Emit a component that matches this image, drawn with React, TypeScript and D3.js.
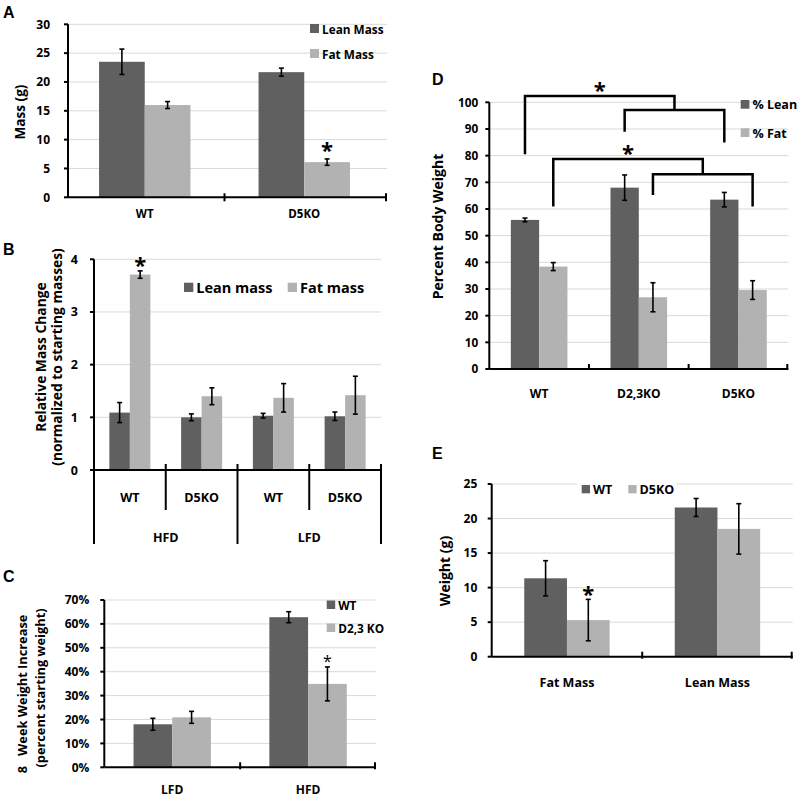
import React from "react";
import * as d3 from "d3";

const FONT = "'Open Sans', Lato, 'DejaVu Sans', sans-serif";
const LETTER_FONT = "'Liberation Sans', Arial, sans-serif";
const DARK = "#606060";
const LIGHT = "#b2b2b2";
const GRID = "#d9d9d9";

// ---------- Panel A ----------
const aCategories = ["WT", "D5KO"];
const aSeriesNames = ["Lean Mass", "Fat Mass"];
const aLean = [23.5, 21.7];
const aLeanErr = [2.2, 0.7];
const aFat = [16.0, 6.1];
const aFatErr = [0.6, 0.55];
const aTicks = [0, 5, 10, 15, 20, 25, 30];
const aStars = [[1, 1]]; // [category, series]

// ---------- Panel B ----------
const bCategories = ["WT", "D5KO", "WT", "D5KO"];
const bGroups = ["HFD", "LFD"];
const bSeriesNames = ["Lean mass", "Fat mass"];
const bLean = [1.09, 1.0, 1.03, 1.02];
const bLeanErr = [0.19, 0.065, 0.045, 0.08];
const bFat = [3.71, 1.4, 1.37, 1.42];
const bFatErr = [0.07, 0.16, 0.27, 0.36];
const bTicks = [0, 1, 2, 3, 4];
const bStars = [[0, 1]];

// ---------- Panel C ----------
const cCategories = ["LFD", "HFD"];
const cSeriesNames = ["WT", "D2,3 KO"];
const cWT = [0.18, 0.628];
const cWTErr = [0.025, 0.023];
const cKO = [0.209, 0.349];
const cKOErr = [0.025, 0.071];
const cTicks = [0, 0.1, 0.2, 0.3, 0.4, 0.5, 0.6, 0.7];
const cStars = [[1, 1]];

// ---------- Panel D ----------
const dCategories = ["WT", "D2,3KO", "D5KO"];
const dSeriesNames = ["% Lean", "% Fat"];
const dLean = [55.9, 68.0, 63.5];
const dLeanErr = [0.7, 4.75, 2.7];
const dFat = [38.4, 26.9, 29.6];
const dFatErr = [1.5, 5.45, 3.5];
const dTicks = [0, 10, 20, 30, 40, 50, 60, 70, 80, 90, 100];
// significance brackets: WT vs (D2,3KO, D5KO), one per series
const dBracketSeries = [0, 1];
const dBracketLeftBase = [80.5, 60.9];
const dBracketOuterTop = [102.4, 78.75];
const dBracketInnerTop = [97.1, 73];
const dBracketMidBase = [89, 65.25];
const dBracketRightBase = [84.9, 60.9];

// ---------- Panel E ----------
const eCategories = ["Fat Mass", "Lean Mass"];
const eSeriesNames = ["WT", "D5KO"];
const eWT = [11.35, 21.6];
const eWTErr = [2.55, 1.3];
const eKO = [5.3, 18.5];
const eKOErr = [3.0, 3.65];
const eTicks = [0, 5, 10, 15, 20, 25];
const eStars = [[0, 1]];

type Series = { values: number[]; errs: number[]; color: string };

function makeScales(n: number, x0: number, x1: number, max: number, yBot: number, yTop: number) {
  const x = d3.scaleBand<number>().domain(d3.range(n)).range([x0, x1]);
  const y = d3.scaleLinear().domain([0, max]).range([yBot, yTop]);
  return { x, y };
}

function Panel(p: any) {
  const { x, y } = p.scales;
  const series: Series[] = p.series;
  const ns = series.length;
  const center = (i: number) => (x(i) as number) + x.bandwidth() / 2;
  const barLeft = (i: number, j: number) => center(i) + (j - ns / 2) * p.barW;
  const fmt = p.fmt || ((v: number) => String(v));
  const els: any[] = [];
  p.ticks.forEach((t: number, k: number) => {
    if (t === 0) return;
    els.push(
      <line key={"g" + k} x1={p.axisStart} x2={p.axisEnd} y1={y(t)} y2={y(t)} stroke={GRID} strokeWidth={1} />
    );
  });
  if (p.legendMask) els.push(<rect key="mask" {...p.legendMask} fill="#fff" />);
  series.forEach((s, j) =>
    s.values.forEach((v, i) => {
      els.push(
        <rect key={`b${i}-${j}`} x={barLeft(i, j)} width={p.barW} y={y(v)} height={y(0) - y(v)} fill={s.color} />
      );
    })
  );
  series.forEach((s, j) =>
    s.values.forEach((v, i) => {
      const cx = barLeft(i, j) + p.barW / 2;
      const lo = y(v - s.errs[i]);
      const hi = y(v + s.errs[i]);
      const cw = p.capW ?? 2.5;
      els.push(
        <g key={`e${i}-${j}`} stroke="#000" strokeWidth={1.6}>
          <line x1={cx} x2={cx} y1={lo} y2={hi} />
          <line x1={cx - cw} x2={cx + cw} y1={lo} y2={lo} />
          <line x1={cx - cw} x2={cx + cw} y1={hi} y2={hi} />
        </g>
      );
    })
  );
  const yb = y(0);
  els.push(
    <line key="yax" x1={p.axisStart} x2={p.axisStart} y1={y(p.ticks[p.ticks.length - 1])} y2={yb} stroke="#000" strokeWidth={2} />
  );
  els.push(<line key="xax" x1={p.axisStart} x2={p.axisEnd} y1={yb} y2={yb} stroke="#000" strokeWidth={2} />);
  p.ticks.forEach((t: number, k: number) => {
    els.push(
      <line key={"yt" + k} x1={p.axisStart - 4} x2={p.axisStart} y1={y(t)} y2={y(t)} stroke="#000" strokeWidth={2} />
    );
    els.push(
      <text key={"yl" + k} x={p.axisStart - p.tickGap} y={y(t)} dy="0.36em" textAnchor="end" fontSize={p.tickFs} fontWeight="bold" fontFamily={FONT}>
        {fmt(t)}
      </text>
    );
  });
  if (p.xTicks) {
    for (let i = 1; i <= p.cats.length; i++) {
      const bx = i === p.cats.length ? p.axisEnd - 1 : (x(i) as number);
      els.push(
        <line key={"xt" + i} x1={bx} x2={bx} y1={yb - p.xTicks[0]} y2={yb + p.xTicks[1]} stroke="#000" strokeWidth={2} />
      );
    }
  }
  if (p.catLabelY) {
    p.cats.forEach((c: string, i: number) =>
      els.push(
        <text key={"cl" + i} x={center(i)} y={p.catLabelY} textAnchor="middle" fontSize={p.catFs} fontWeight="bold" fontFamily={FONT}>
          {c}
        </text>
      )
    );
  }
  (p.stars || []).forEach((st: number[], k: number) => {
    const [i, j] = st;
    const s = series[j];
    const cx = barLeft(i, j) + p.barW / 2;
    const top = y(s.values[i] + s.errs[i]);
    els.push(
      <text key={"st" + k} x={cx} y={top - p.starOffset} textAnchor="middle" fontSize={p.starFs} fontWeight={p.starWeight || "bold"} fontFamily={FONT}>
        *
      </text>
    );
  });
  return <g>{els}</g>;
}

function YLabel({ cx, cy, lines, fs, gap }: any) {
  return (
    <g transform={`translate(${cx},${cy}) rotate(-90)`}>
      {lines.map((l: string, k: number) => (
        <text key={k} x={0} y={(k - (lines.length - 1) / 2) * gap} dy="0.36em" textAnchor="middle" fontSize={fs} fontWeight="bold" fontFamily={FONT} style={{ whiteSpace: "pre" }}>
          {l}
        </text>
      ))}
    </g>
  );
}

function Legend({ items, fs }: any) {
  return (
    <g>
      {items.map((it: any, k: number) => (
        <g key={k}>
          <rect x={it.x} y={it.y} width={it.s} height={it.s} fill={it.color} />
          <text x={it.x + it.s + 3} y={it.y + it.s + 0.5} fontSize={fs} fontWeight="bold" fontFamily={FONT}>
            {it.name}
          </text>
        </g>
      ))}
    </g>
  );
}

function Letter({ x, y, t }: any) {
  return (
    <text x={x} y={y} fontSize={16} fontWeight="bold" fontFamily={LETTER_FONT}>
      {t}
    </text>
  );
}

export default function App() {
  const aSc = makeScales(aCategories.length, 65, 384, 30, 197.3, 24.3);
  const aSeries: Series[] = [
    { values: aLean, errs: aLeanErr, color: DARK },
    { values: aFat, errs: aFatErr, color: LIGHT },
  ];
  const bSc = makeScales(bCategories.length, 94, 381, 4, 470, 259.3);
  const bSeries: Series[] = [
    { values: bLean, errs: bLeanErr, color: DARK },
    { values: bFat, errs: bFatErr, color: LIGHT },
  ];
  const bBand = bSc.x.bandwidth();
  const cSc = makeScales(cCategories.length, 104.3, 376, 0.7, 767.3, 600);
  const cSeries: Series[] = [
    { values: cWT, errs: cWTErr, color: DARK },
    { values: cKO, errs: cKOErr, color: LIGHT },
  ];
  const dSc = makeScales(dCategories.length, 489.3, 788.3, 100, 369, 102.3);
  const dSeries: Series[] = [
    { values: dLean, errs: dLeanErr, color: DARK },
    { values: dFat, errs: dFatErr, color: LIGHT },
  ];
  const dBarW = 28.3;
  const dBarCenter = (i: number, j: number) =>
    (dSc.x(i) as number) + dSc.x.bandwidth() / 2 + (j - 1) * dBarW + dBarW / 2;
  const eSc = makeScales(eCategories.length, 491.7, 792.7, 25, 656.7, 484);
  const eSeries: Series[] = [
    { values: eWT, errs: eWTErr, color: DARK },
    { values: eKO, errs: eKOErr, color: LIGHT },
  ];

  return (
    <svg width={797} height={797} style={{ position: "absolute", left: 0, top: 0, background: "#fff" }}>
      <rect width={797} height={797} fill="#fff" />
      {/* ===== A ===== */}
      <Letter x={3} y={18} t="A" />
      <Panel
        scales={aSc} series={aSeries} cats={aCategories} barW={45.7}
        axisStart={68} axisEnd={387} ticks={aTicks} tickFs={12} tickGap={18}
        xTicks={[4, 4]} catLabelY={217.5} catFs={11.5}
        stars={aStars} starFs={22} starOffset={1}
      />
      <YLabel cx={20} cy={112} lines={["Mass (g)"]} fs={13.6} gap={0} />
      <Legend
        fs={11.8}
        items={aSeriesNames.map((n, k) => ({ name: n, x: 310, y: 24 + k * 25, s: 9, color: k ? LIGHT : DARK }))}
      />

      {/* ===== B ===== */}
      <Letter x={3} y={255} t="B" />
      <Panel
        scales={bSc} series={bSeries} cats={bCategories} barW={20.5}
        axisStart={94} axisEnd={381} ticks={bTicks} tickFs={12.5} tickGap={16}
        stars={bStars} starFs={22} starOffset={-2.5}
      />
      {bCategories.map((c, i) => (
        <text key={"bc" + i} x={(bSc.x(i) as number) + bBand / 2} y={501.5} textAnchor="middle" fontSize={12.5} fontWeight="bold" fontFamily={FONT}>
          {c}
        </text>
      ))}
      {d3.range(bCategories.length + 1).map((i) => {
        const bx = 94 + i * bBand;
        const long = i % 2 === 0;
        return <line key={"bd" + i} x1={bx} x2={bx} y1={i === 0 ? 470 : 464} y2={long ? 544 : 510} stroke="#000" strokeWidth={2} />;
      })}
      {bGroups.map((g, k) => (
        <text key={"bg" + k} x={94 + bBand * (2 * k + 1)} y={542} textAnchor="middle" fontSize={12.5} fontWeight="bold" fontFamily={FONT}>
          {g}
        </text>
      ))}
      <YLabel cx={49} cy={357} lines={["Relative Mass Change", "(normalized to starting masses)"]} fs={13.8} gap={15.2} />
      <Legend
        fs={14.5}
        items={bSeriesNames.map((n, k) => ({ name: n, x: 184 + k * 103.7, y: 282.7, s: 9.3, color: k ? LIGHT : DARK }))}
      />

      {/* ===== C ===== */}
      <Letter x={3} y={582} t="C" />
      <Panel
        scales={cSc} series={cSeries} cats={cCategories} barW={38.7}
        axisStart={104.3} axisEnd={376} ticks={cTicks} tickFs={12} tickGap={15}
        fmt={d3.format(".0%")}
        xTicks={[5, 2]} catLabelY={794} catFs={12}
        stars={cStars} starFs={16} starWeight="normal" starOffset={0}
      />
      <YLabel cx={22} cy={694} lines={["8   Week Weight Increase"]} fs={12.8} gap={0} />
      <YLabel cx={40} cy={688} lines={["(percent starting weight)"]} fs={12.8} gap={0} />
      <Legend
        fs={11.8}
        items={cSeriesNames.map((n, k) => ({ name: n, x: 326.7, y: 600.5 + k * 23, s: 8.5, color: k ? LIGHT : DARK }))}
      />

      {/* ===== D ===== */}
      <Letter x={432} y={85} t="D" />
      <Panel
        scales={dSc} series={dSeries} cats={dCategories} barW={dBarW}
        axisStart={489.3} axisEnd={788.3} ticks={dTicks} tickFs={11.8} tickGap={11}
        xTicks={[5, 1]} catLabelY={397.5} catFs={12}
      />
      {dBracketSeries.map((s, k) => {
        const y = dSc.y;
        const lx = dBarCenter(0, s);
        const ax = dBarCenter(1, s);
        const bx = dBarCenter(2, s);
        const mx = (ax + bx) / 2;
        const path = `M${lx},${y(dBracketLeftBase[k])}V${y(dBracketOuterTop[k])}H${mx}V${y(dBracketInnerTop[k])}` +
          `M${ax},${y(dBracketMidBase[k])}V${y(dBracketInnerTop[k])}H${bx}V${y(dBracketRightBase[k])}`;
        return (
          <g key={"br" + k}>
            <path d={path} fill="none" stroke="#000" strokeWidth={2.5} />
            <text x={(lx + mx) / 2} y={y(dBracketOuterTop[k]) + 2.5} textAnchor="middle" fontSize={22} fontWeight="bold" fontFamily={FONT}>
              *
            </text>
          </g>
        );
      })}
      <YLabel cx={438} cy={226.5} lines={["Percent Body Weight"]} fs={14} gap={0} />
      <Legend
        fs={12.5}
        items={dSeriesNames.map((n, k) => ({ name: n, x: 740.7, y: 100 + k * 28.3, s: 8.7, color: k ? LIGHT : DARK }))}
      />

      {/* ===== E ===== */}
      <Letter x={432} y={459} t="E" />
      <Panel
        scales={eSc} series={eSeries} cats={eCategories} barW={42.7}
        axisStart={491.7} axisEnd={792.7} ticks={eTicks} tickFs={12} tickGap={14.4}
        xTicks={[5, 2]} catLabelY={687} catFs={12.5}
        legendMask={{ x: 577, y: 478, width: 100, height: 20 }}
        stars={eStars} starFs={22} starOffset={-3}
      />
      <YLabel cx={445} cy={571} lines={["Weight (g)"]} fs={14} gap={0} />
      <Legend
        fs={12.5}
        items={eSeriesNames.map((n, k) => ({ name: n, x: 581.7 + k * 46.6, y: 485, s: 8.3, color: k ? LIGHT : DARK }))}
      />
    </svg>
  );
}
